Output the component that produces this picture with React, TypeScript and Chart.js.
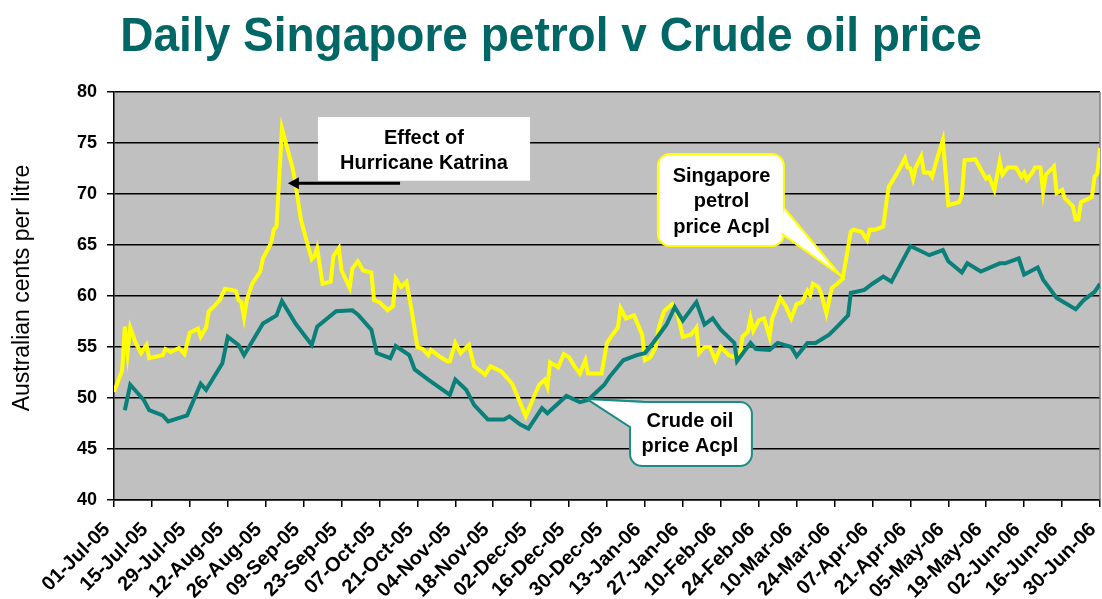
import React, { useEffect, useRef } from 'react';
import { Chart, registerables } from 'chart.js';

Chart.register(...registerables);

// ---------- DATA ----------
const START_YEAR = 2005;
const START_MONTH = 6; // July (0-based)
const START_DAY = 1;
const MONTHS = ['Jan', 'Feb', 'Mar', 'Apr', 'May', 'Jun', 'Jul', 'Aug', 'Sep', 'Oct', 'Nov', 'Dec'];

const X_MIN_DAY = 0;
const X_MAX_DAY = 364;
const X_TICK_STEP_DAYS = 14;

const Y_MIN = 40;
const Y_MAX = 80;
const Y_STEP = 5;

// Singapore petrol price (Australian cents per litre), day offset from 01-Jul-05
const petrolDays = [
  0, 3, 4, 5, 6, 8, 10, 12, 13, 18,
  19, 21, 24, 26, 28, 31, 32, 34, 35, 37,
  39, 41, 45, 46, 47, 48, 49, 51, 54, 55,
  58, 59, 60, 62, 66, 67, 69, 71, 73, 74,
  75, 77, 80, 81, 83, 84, 87, 88, 90, 92,
  95, 96, 98, 101, 103, 104, 106, 108, 110, 112,
  114, 116, 117, 120, 123, 124, 126, 128, 131, 133,
  137, 139, 143, 147, 150, 152, 155, 157, 159, 160,
  161, 164, 166, 168, 170, 172, 174, 175, 180, 182,
  184, 186, 187, 189, 192, 195, 196, 198, 200, 201,
  203, 206, 208, 210, 213, 215, 216, 218, 220, 222,
  224, 227, 229, 231, 232, 234, 235, 236, 238, 240,
  242, 243, 246, 248, 250, 252, 254, 256, 257, 258,
  260, 261, 263, 265, 267, 269, 270, 272, 273, 276,
  278, 279, 281, 284, 285, 286, 289, 292, 293, 294,
  295, 296, 298, 299, 301, 302, 304, 306, 308, 312,
  313, 314, 318, 320, 322, 323, 325, 327, 328, 330,
  333, 335, 336, 337, 339, 340, 342, 343, 344, 347,
  348, 350, 351, 354, 355, 356, 357, 361, 362, 363,
  364,
];
const petrolValues = [
  50.6, 52.7, 57.0, 54.4, 56.9, 55.4, 54.4, 55.2, 53.9, 54.2,
  54.8, 54.5, 54.9, 54.3, 56.4, 56.8, 56.0, 56.9, 58.5, 59.0,
  59.6, 60.7, 60.5, 59.6, 59.4, 57.9, 59.6, 61.2, 62.4, 63.7,
  65.2, 66.5, 66.8, 76.4, 72.5, 71.0, 67.5, 65.5, 63.6, 63.9,
  64.7, 61.2, 61.4, 63.9, 64.7, 62.5, 60.8, 62.7, 63.4, 62.5,
  62.3, 59.6, 59.4, 58.6, 59.0, 61.7, 60.9, 61.4, 58.4, 55.0,
  54.8, 54.2, 54.7, 54.1, 53.6, 53.6, 55.4, 54.4, 55.2, 53.1,
  52.3, 53.1, 52.6, 51.4, 49.5, 48.2, 50.1, 51.3, 51.8, 51.1,
  53.5, 53.0, 54.3, 54.0, 53.1, 52.4, 53.7, 52.4, 52.4, 55.4,
  56.2, 56.9, 58.8, 57.8, 58.1, 56.2, 53.7, 54.0, 55.0, 56.8,
  58.5, 59.2, 58.3, 56.0, 56.2, 56.9, 54.4, 55.0, 55.0, 53.7,
  55.0, 54.2, 54.0, 54.0, 56.0, 56.5, 57.8, 56.6, 57.6, 57.8,
  56.0, 57.8, 59.8, 59.0, 57.8, 59.2, 59.4, 60.5, 60.1, 61.2,
  60.9, 60.3, 58.3, 60.8, 61.2, 61.7, 63.2, 66.3, 66.5, 66.3,
  65.5, 66.5, 66.5, 66.8, 68.9, 70.7, 72.0, 73.5, 72.6, 72.5,
  71.5, 72.6, 73.7, 72.1, 72.1, 71.7, 73.6, 75.3, 68.9, 69.2,
  69.9, 73.3, 73.4, 72.4, 71.5, 71.7, 70.4, 73.2, 71.9, 72.6,
  72.6, 71.7, 72.1, 71.4, 72.1, 72.6, 72.6, 70.2, 71.9, 72.7,
  70.1, 70.4, 69.6, 68.8, 67.5, 67.5, 69.2, 69.7, 71.7, 72.0,
  74.5,
];

// Crude oil price (Australian cents per litre)
const crudeDays = [
  4, 6, 11, 13, 18, 20, 27, 32, 34, 40,
  42, 46, 48, 55, 60, 62, 67, 73, 75, 82,
  88, 90, 95, 97, 102, 104, 109, 111, 116, 124,
  126, 130, 133, 138, 144, 146, 150, 153, 158, 160,
  167, 172, 175, 181, 183, 188, 193, 196, 199, 204,
  207, 210, 215, 218, 221, 224, 229, 230, 235, 237,
  242, 245, 250, 252, 256, 259, 264, 267, 271, 272,
  277, 280, 284, 287, 291, 294, 301, 306, 308, 313,
  315, 320, 327, 329, 334, 336, 341, 343, 348, 355,
  358, 362, 364,
];
const crudeValues = [
  48.8, 51.3, 49.8, 48.8, 48.3, 47.7, 48.3, 51.4, 50.8, 53.4,
  56.0, 55.2, 54.2, 57.3, 58.1, 59.5, 57.3, 55.2, 57.0, 58.5,
  58.6, 58.2, 56.7, 54.4, 53.9, 55.1, 54.2, 52.8, 51.8, 50.3,
  51.8, 50.8, 49.3, 47.9, 47.9, 48.2, 47.4, 47.0, 49.0, 48.5,
  50.2, 49.6, 49.8, 51.3, 52.1, 53.7, 54.2, 54.4, 55.4, 57.2,
  58.9, 57.6, 59.4, 57.2, 57.8, 56.7, 55.4, 53.6, 55.4, 54.8,
  54.7, 55.4, 55.0, 54.1, 55.4, 55.4, 56.2, 57.0, 58.1, 60.3,
  60.6, 61.2, 61.9, 61.4, 63.4, 64.9, 64.0, 64.5, 63.4, 62.3,
  63.2, 62.4, 63.2, 63.2, 63.7, 62.1, 62.8, 61.6, 59.8, 58.7,
  59.6, 60.4, 61.2,
];

const TITLE = 'Daily Singapore petrol v Crude oil price';
const Y_TITLE = 'Australian cents per litre';
const KATRINA_LINES = ['Effect of', 'Hurricane Katrina'];
const PETROL_LABEL_LINES = ['Singapore', 'petrol', 'price Acpl'];
const CRUDE_LABEL_LINES = ['Crude oil', 'price Acpl'];

// ---------- STYLE ----------
const FONT = '"Liberation Sans", Arial, Helvetica, sans-serif';
const TITLE_COLOR = '#006666';
const PLOT_BG = '#C0C0C0';
const PETROL_COLOR = '#FFFF00';
const CRUDE_COLOR = '#0B7F79';

// annotation anchors in data space (day offset, value)
const KATRINA_BOX = { d0: 75.3, d1: 153.6, v0: 77.55, v1: 71.3 };
const KATRINA_TEXT = { d: 114.4, v: [74.9, 72.42] };
const KATRINA_ARROW = { dFrom: 105.6, dTo: 64.2, v: 71.05 };

const PETROL_BOX = { d0: 200.8, d1: 247.3, v0: 73.92, v1: 64.9 };
const PETROL_TEXT = { d: 224.3, v: [71.18, 68.68, 66.18] };
const PETROL_WEDGE = { tip: [268.0, 62.06], b1: [247.3, 68.63], b2: [246.5, 66.1] };

const CRUDE_BOX = { d0: 190.5, d1: 235.5, v0: 49.6, v1: 43.33 };
const CRUDE_TEXT = { d: 212.6, v: [47.16, 44.7] };
const CRUDE_WEDGE = { tip: [174.6, 49.9], b1: [196.0, 49.6], b2: [190.5, 47.16] };

function formatDay(day: number): string {
  const d = new Date(Date.UTC(START_YEAR, START_MONTH, START_DAY));
  d.setUTCDate(d.getUTCDate() + Math.round(day));
  const dd = String(d.getUTCDate()).padStart(2, '0');
  const yy = String(d.getUTCFullYear() % 100).padStart(2, '0');
  return `${dd}-${MONTHS[d.getUTCMonth()]}-${yy}`;
}

const decorPlugin = {
  id: 'decor',
  beforeDraw(chart: any) {
    const { ctx, chartArea: a } = chart;
    ctx.save();
    ctx.fillStyle = '#ffffff';
    ctx.fillRect(0, 0, chart.width, chart.height);
    ctx.fillStyle = PLOT_BG;
    ctx.fillRect(a.left, a.top, a.right - a.left, a.bottom - a.top);
    ctx.restore();
  },
  beforeDatasetsDraw(chart: any) {
    const { ctx, chartArea: a } = chart;
    ctx.save();
    ctx.strokeStyle = '#808080';
    ctx.lineWidth = 1.5;
    ctx.beginPath();
    ctx.moveTo(a.right, a.top);
    ctx.lineTo(a.right, a.bottom);
    ctx.stroke();
    ctx.restore();
  },
  afterDraw(chart: any) {
    const { ctx } = chart;
    const xs = chart.scales.x;
    const ys = chart.scales.y;
    const px = (d: number) => xs.getPixelForValue(d);
    const py = (v: number) => ys.getPixelForValue(v);

    ctx.save();
    // Title
    ctx.save();
    ctx.translate(551, 51);
    ctx.scale(1, 1.05);
    ctx.fillStyle = TITLE_COLOR;
    ctx.font = `bold 46px ${FONT}`;
    ctx.textAlign = 'center';
    ctx.textBaseline = 'alphabetic';
    ctx.fillText(TITLE, 0, 0);
    ctx.restore();

    // Y axis title
    ctx.save();
    ctx.translate(23, 288);
    ctx.rotate(-Math.PI / 2);
    ctx.fillStyle = '#000';
    ctx.font = `23px ${FONT}`;
    ctx.textAlign = 'center';
    ctx.textBaseline = 'middle';
    ctx.fillText(Y_TITLE, 0, 0);
    ctx.restore();

    // Katrina box
    const kx0 = px(KATRINA_BOX.d0), kx1 = px(KATRINA_BOX.d1);
    const ky0 = py(KATRINA_BOX.v0), ky1 = py(KATRINA_BOX.v1);
    ctx.fillStyle = '#ffffff';
    ctx.fillRect(kx0, ky0, kx1 - kx0, ky1 - ky0);
    ctx.fillStyle = '#000';
    ctx.font = `bold 20px ${FONT}`;
    ctx.textAlign = 'center';
    ctx.textBaseline = 'alphabetic';
    KATRINA_LINES.forEach((t, i) => ctx.fillText(t, px(KATRINA_TEXT.d), py(KATRINA_TEXT.v[i])));

    // Arrow
    const ay = py(KATRINA_ARROW.v);
    const ax0 = px(KATRINA_ARROW.dFrom);
    const ax1 = px(KATRINA_ARROW.dTo);
    ctx.strokeStyle = '#000';
    ctx.lineWidth = 3;
    ctx.beginPath();
    ctx.moveTo(ax0, ay);
    ctx.lineTo(ax1 + 9, ay);
    ctx.stroke();
    ctx.fillStyle = '#000';
    ctx.beginPath();
    ctx.moveTo(ax1, ay);
    ctx.lineTo(ax1 + 11, ay - 6);
    ctx.lineTo(ax1 + 11, ay + 6);
    ctx.closePath();
    ctx.fill();

    // Callouts
    const drawCallout = (box: any, wedge: any, color: string, lines: string[], text: any) => {
      const x0 = px(box.d0), x1 = px(box.d1), y0 = py(box.v0), y1 = py(box.v1);
      const tip = [px(wedge.tip[0]), py(wedge.tip[1])];
      const b1 = [px(wedge.b1[0]), py(wedge.b1[1])];
      const b2 = [px(wedge.b2[0]), py(wedge.b2[1])];
      ctx.lineWidth = 2;
      ctx.strokeStyle = color;
      ctx.fillStyle = '#ffffff';
      ctx.beginPath();
      ctx.moveTo(b1[0], b1[1]);
      ctx.lineTo(tip[0], tip[1]);
      ctx.lineTo(b2[0], b2[1]);
      ctx.closePath();
      ctx.fill();
      ctx.stroke();
      ctx.beginPath();
      (ctx as any).roundRect(x0, y0, x1 - x0, y1 - y0, 12);
      ctx.fill();
      ctx.stroke();
      ctx.beginPath();
      ctx.moveTo(b1[0], b1[1]);
      ctx.lineTo(tip[0], tip[1]);
      ctx.lineTo(b2[0], b2[1]);
      ctx.closePath();
      ctx.fill();
      ctx.beginPath();
      ctx.moveTo(b1[0], b1[1]);
      ctx.lineTo(tip[0], tip[1]);
      ctx.lineTo(b2[0], b2[1]);
      ctx.stroke();
      ctx.fillStyle = '#000';
      ctx.font = `bold 20px ${FONT}`;
      ctx.textAlign = 'center';
      ctx.textBaseline = 'alphabetic';
      lines.forEach((t, i) => ctx.fillText(t, px(text.d), py(text.v[i])));
    };
    drawCallout(PETROL_BOX, PETROL_WEDGE, PETROL_COLOR, PETROL_LABEL_LINES, PETROL_TEXT);
    drawCallout(CRUDE_BOX, CRUDE_WEDGE, '#1C8C86', CRUDE_LABEL_LINES, CRUDE_TEXT);
    ctx.restore();
  },
};

export default function App() {
  const canvasRef = useRef<HTMLCanvasElement | null>(null);

  useEffect(() => {
    const canvas = canvasRef.current;
    if (!canvas) return;
    const chart = new Chart(canvas, {
      type: 'line',
      data: {
        datasets: [
          {
            label: 'Crude oil price Acpl',
            data: crudeDays.map((d, i) => ({ x: d, y: crudeValues[i] })),
            borderColor: CRUDE_COLOR,
            borderWidth: 4,
            pointRadius: 0,
            tension: 0,
            fill: false,
          },
          {
            label: 'Singapore petrol price Acpl',
            data: petrolDays.map((d, i) => ({ x: d, y: petrolValues[i] })),
            borderColor: PETROL_COLOR,
            borderWidth: 4,
            pointRadius: 0,
            tension: 0,
            fill: false,
          },
        ],
      },
      options: {
        animation: false,
        responsive: false,
        devicePixelRatio: 1,
        layout: { padding: { top: 92, right: 2, left: 0, bottom: 0 } },
        plugins: {
          legend: { display: false },
          title: { display: false },
          tooltip: { enabled: false },
        },
        scales: {
          x: {
            type: 'linear',
            min: X_MIN_DAY,
            max: X_MAX_DAY,
            ticks: {
              stepSize: X_TICK_STEP_DAYS,
              autoSkip: false,
              maxRotation: 45,
              minRotation: 45,
              color: '#000',
              font: { family: FONT, size: 20, weight: 'bold' },
              padding: 11,
              labelOffset: -7,
              callback: (v: any) => formatDay(Number(v)),
            },
            grid: {
              drawOnChartArea: false,
              drawTicks: true,
              tickLength: 7,
              color: '#000',
              lineWidth: 1.5,
            },
            border: { display: true, color: '#000', width: 1.5 },
            afterFit: (s: any) => {
              s.height = 99;
              s.paddingLeft = 0;
              s.paddingRight = 0;
            },
          },
          y: {
            type: 'linear',
            min: Y_MIN,
            max: Y_MAX,
            ticks: {
              stepSize: Y_STEP,
              color: '#000',
              font: { family: FONT, size: 18, weight: 'bold' },
              padding: 10,
            },
            grid: {
              drawOnChartArea: true,
              drawTicks: true,
              tickLength: 7,
              color: '#000',
              lineWidth: 1.5,
            },
            border: { display: true, color: '#000', width: 1.5 },
            afterFit: (s: any) => {
              s.width = 114;
              s.paddingTop = 0;
              s.paddingBottom = 0;
            },
          },
        },
      },
      plugins: [decorPlugin],
    } as any);
    return () => chart.destroy();
  }, []);

  return (
    <div style={{ position: 'absolute', left: 0, top: 0, width: 1102, height: 599, background: '#fff' }}>
      <canvas ref={canvasRef} width={1102} height={599} style={{ display: 'block' }} />
    </div>
  );
}
